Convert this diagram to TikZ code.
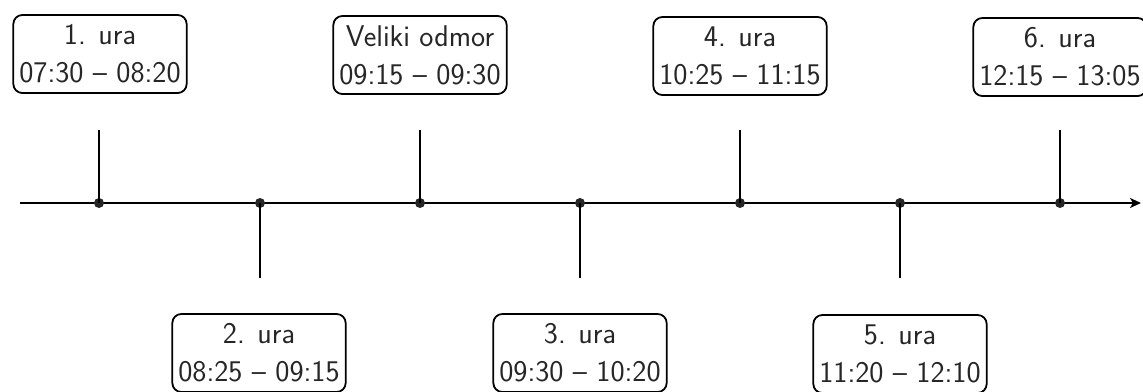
\documentclass[tikz,border=0pt]{standalone}
\usetikzlibrary{arrows.meta}
\begin{document}
\begin{tikzpicture}[x=1pt,y=-1pt,
  slot/.style={draw, line width=1.8pt, rounded corners=9pt, align=center,
    font=\sffamily\fontsize{30}{38}\selectfont, inner xsep=6pt, inner ysep=5pt,
    minimum height=78pt, text=black!85},
  tick/.style={line width=1.8pt},
  dotm/.style={circle, fill=black!85, inner sep=0pt, minimum size=10pt}]
\useasboundingbox (0,0) rectangle (1143,391);
\coordinate (start) at (20,203);
\coordinate (end) at (1141,203);
\draw[line width=1.8pt, -{Stealth[length=11pt,width=10pt,inset=3pt]}] (start) -- (end);
% dots
\foreach \i/\x in {1/99,2/260,3/420,4/580,5/740,6/900,7/1060}{
  \node[dotm] (d\i) at (\x,203) {};
}
% ticks
\coordinate (t1) at (99,130);
\coordinate (t2) at (260,278);
\coordinate (t3) at (420,130);
\coordinate (t4) at (580,278);
\coordinate (t5) at (740,130);
\coordinate (t6) at (900,278);
\coordinate (t7) at (1060,130);
\foreach \i in {1,...,7}{\draw[tick] (d\i.center) -- (t\i);}
% boxes
\node[slot] (b1) at (100,54) {1. ura\\07:30 -- 08:20};
\node[slot] (b3) at (420,55) {Veliki odmor\\09:15 -- 09:30};
\node[slot] (b5) at (740,56) {4. ura\\10:25 -- 11:15};
\node[slot] (b7) at (1060,57) {6. ura\\12:15 -- 13:05};
\node[slot] (b2) at (259,353) {2. ura\\08:25 -- 09:15};
\node[slot] (b4) at (580,353) {3. ura\\09:30 -- 10:20};
\node[slot] (b6) at (900,354) {5. ura\\11:20 -- 12:10};
\end{tikzpicture}
\end{document}
